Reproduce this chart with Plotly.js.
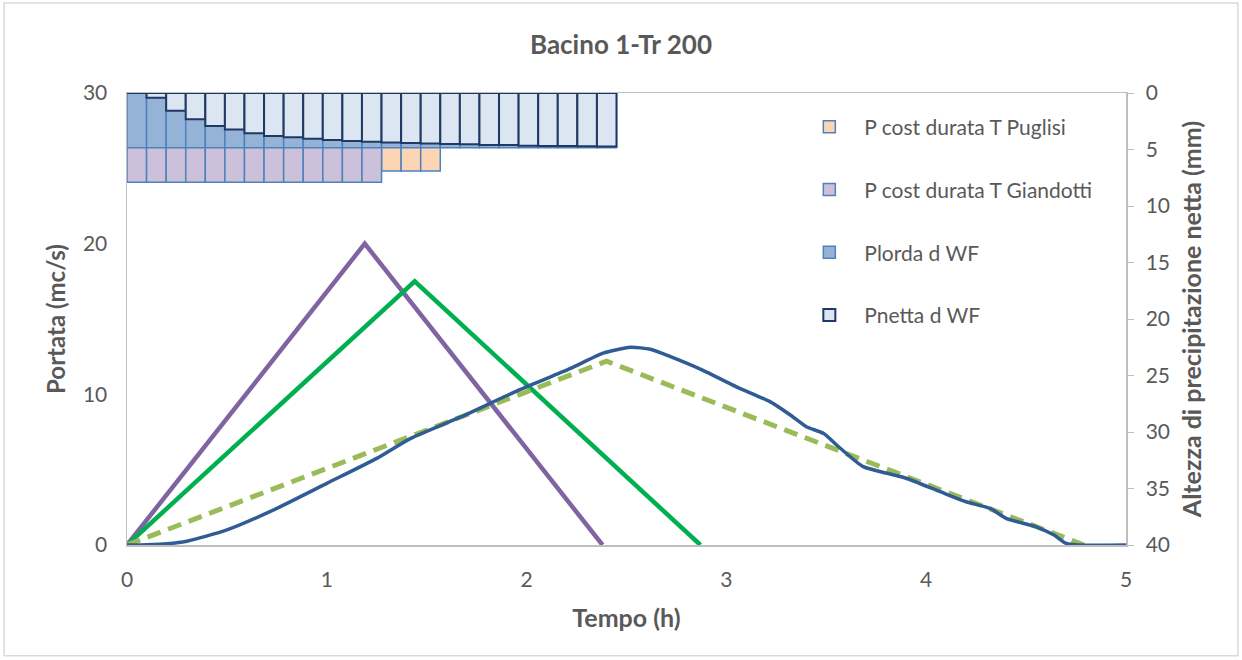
<!DOCTYPE html>
<html>
<head>
<meta charset="utf-8">
<script src="https://cdn.plot.ly/plotly-3.0.1.min.js"></script>
<style>html,body{margin:0;padding:0;background:#fff;}#chart{width:1242px;height:660px;}</style>
</head>
<body>
<div id="chart"></div>
<script>
// Rainfall bars (time step centres, h)
const barTimes = [0.049,0.147,0.245,0.343,0.441,0.539,0.637,0.735,0.833,0.931,1.029,1.127,1.225,1.323,1.421,1.519,1.617,1.715,1.813,1.911,2.009,2.107,2.205,2.303,2.401];
const puglisiTimes = barTimes.slice(0,16);
const giandottiTimes = barTimes.slice(0,13);
const pPuglisi = [6.9,6.9,6.9,6.9,6.9,6.9,6.9,6.9,6.9,6.9,6.9,6.9,6.9,6.9,6.9,6.9];
const pGiandotti = [7.9,7.9,7.9,7.9,7.9,7.9,7.9,7.9,7.9,7.9,7.9,7.9,7.9];
const pLorda = [4.84,4.84,4.84,4.84,4.84,4.84,4.84,4.84,4.84,4.84,4.84,4.84,4.84,4.84,4.84,4.84,4.84,4.84,4.84,4.84,4.84,4.84,4.84,4.84,4.84];
const pNetta = [0,0.41,1.56,2.33,2.92,3.24,3.57,3.81,3.92,4.04,4.16,4.25,4.31,4.37,4.42,4.48,4.51,4.54,4.60,4.61,4.66,4.69,4.70,4.72,4.73];

// Hydrographs
const giandottiT = [0,1.19,2.38];
const giandottiQ = [0,20,0];
const puglisiT = [0,1.44,2.87];
const puglisiQ = [0,17.5,0];
const wfTriT = [0,2.40,4.79];
const wfTriQ = [0,12.2,0];
const wfT = [0,0.1,0.2,0.3,0.5,0.75,1.0,1.25,1.42,1.67,1.97,2.22,2.38,2.52,2.62,2.72,2.88,3.05,3.22,3.32,3.40,3.485,3.57,3.685,3.82,3.90,4.07,4.20,4.32,4.40,4.55,4.64,4.70,4.77,5.0];
const wfQ = [0,0.02,0.08,0.25,1.0,2.43,4.09,5.75,7.08,8.5,10.33,11.72,12.72,13.12,12.99,12.5,11.61,10.5,9.5,8.63,7.85,7.41,6.42,5.2,4.71,4.43,3.54,2.87,2.43,1.77,1.21,0.66,0.11,0,0];

const FONT = 'Lato, "Open Sans", sans-serif';
const TXT = '#595959';
const AX = '#BFBFBF';

const traces = [
  {type:'bar', x:puglisiTimes, y:pPuglisi, yaxis:'y2', width:0.098, name:'P cost durata T Puglisi',
   marker:{color:'#FCD5B5', line:{color:'#4F81BD', width:1.5}}, legendgroup:'a'},
  {type:'bar', x:giandottiTimes, y:pGiandotti, yaxis:'y2', width:0.098, name:'P cost durata T Giandotti',
   marker:{color:'#CCC1DA', line:{color:'#4F81BD', width:1.5}}, legendgroup:'b'},
  {type:'bar', x:barTimes, y:pLorda, yaxis:'y2', width:0.098, name:'Plorda d WF',
   marker:{color:'#95B3D7', line:{color:'#4F81BD', width:1.5}}, legendgroup:'c'},
  {type:'bar', x:barTimes, y:pNetta, yaxis:'y2', width:0.098, name:'Pnetta d WF',
   marker:{color:'#DCE6F2', line:{color:'#1F3864', width:2}}, legendgroup:'d'},
  {type:'scatter', mode:'lines', x:giandottiT, y:giandottiQ, showlegend:false,
   line:{color:'#8064A2', width:4.5}},
  {type:'scatter', mode:'lines', x:puglisiT, y:puglisiQ, showlegend:false,
   line:{color:'#00B050', width:4.5}},
  {type:'scatter', mode:'lines', x:wfTriT, y:wfTriQ, showlegend:false,
   line:{color:'#9BBB59', width:5, dash:'14px,8px'}},
  {type:'scatter', mode:'lines', x:wfT, y:wfQ, showlegend:false,
   line:{color:'#2F5C94', width:3.5, shape:'spline', smoothing:0.6}}
];

const layout = {
  width:1242, height:660,
  margin:{l:127, r:116, t:93, b:115},
  paper_bgcolor:'#fff', plot_bgcolor:'#fff',
  font:{family:FONT, color:TXT, size:21},
  barmode:'overlay', bargap:0,
  title:{text:'<b>Bacino 1-Tr 200</b>', x:0.5, xanchor:'center', y:0.932, yanchor:'middle',
         font:{family:FONT, size:26, color:TXT}},
  xaxis:{range:[0,5], dtick:1, showgrid:false, zeroline:false, showline:true, linecolor:AX, linewidth:1.5,
         mirror:true, ticks:'', ticklabelstandoff:15, tickfont:{size:21, color:TXT},
         title:{text:'<b>Tempo (h)</b>', font:{size:25, color:TXT}, standoff:20}},
  yaxis:{range:[0,30], dtick:10, showgrid:false, zeroline:false, showline:true, linecolor:AX, linewidth:1.5,
         ticks:'', ticklabelstandoff:14, tickfont:{size:21, color:TXT},
         title:{text:'<b>Portata (mc/s)</b>', font:{size:24, color:TXT}, standoff:10}},
  yaxis2:{range:[40,0], dtick:5, overlaying:'y', side:'right', showgrid:false, zeroline:false,
          showline:true, linecolor:AX, linewidth:1.5, ticks:'outside', ticklen:6, tickcolor:AX,
          ticklabelstandoff:8, tickfont:{size:21, color:TXT},
          title:{text:'<b>Altezza di precipitazione netta (mm)</b>', font:{size:25, color:TXT}, standoff:14}},
  showlegend:true,
  legend:{x:0.668, xanchor:'left', y:0.97, yanchor:'top', bgcolor:'rgba(0,0,0,0)',
          font:{size:21, color:TXT}, traceorder:'grouped', tracegroupgap:32.5, itemwidth:60},
  shapes:[{type:'rect', xref:'paper', yref:'paper', x0:-0.123, x1:1.112, y0:-0.245, y1:1.199,
           line:{color:'#D9D9D9', width:1.5}, fillcolor:'rgba(0,0,0,0)', layer:'below'}]
};

Plotly.newPlot('chart', traces, layout, {displayModeBar:false, staticPlot:true});
</script>
</body>
</html>
